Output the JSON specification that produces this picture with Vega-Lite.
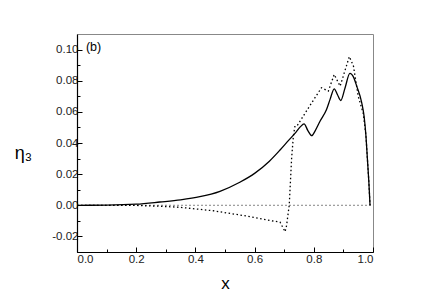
{
  "$schema": "https://vega.github.io/schema/vega-lite/v6.json",
  "width": 296,
  "height": 218,
  "autosize": "none",
  "padding": {"left": 77, "top": 34, "right": 61, "bottom": 51},
  "background": "white",
  "config": {
    "view": {"stroke": "#888", "strokeWidth": 1},
    "axis": {
      "grid": false,
      "domainColor": "#000",
      "domainWidth": 1.2,
      "tickColor": "#000",
      "tickWidth": 1,
      "labelFont": "Liberation Sans",
      "labelFontSize": 11.5,
      "labelColor": "#222",
      "titleFont": "Liberation Sans",
      "titleFontWeight": "normal",
      "titleColor": "#000"
    }
  },
  "datasets": {
    "solid": [
      {"x": 0, "y": 0}, {"x": 0.1, "y": 0.0001}, {"x": 0.2, "y": 0.0007}, {"x": 0.28, "y": 0.0021},
      {"x": 0.35, "y": 0.0035}, {"x": 0.415, "y": 0.0055}, {"x": 0.483, "y": 0.009}, {"x": 0.55, "y": 0.0148},
      {"x": 0.6, "y": 0.0205}, {"x": 0.65, "y": 0.0283}, {"x": 0.686, "y": 0.0355}, {"x": 0.714, "y": 0.0415},
      {"x": 0.74, "y": 0.047}, {"x": 0.755, "y": 0.0505}, {"x": 0.767, "y": 0.0523}, {"x": 0.78, "y": 0.048},
      {"x": 0.793, "y": 0.0447}, {"x": 0.805, "y": 0.048}, {"x": 0.821, "y": 0.054}, {"x": 0.843, "y": 0.0615},
      {"x": 0.855, "y": 0.068}, {"x": 0.869, "y": 0.0748}, {"x": 0.88, "y": 0.071}, {"x": 0.891, "y": 0.0673},
      {"x": 0.905, "y": 0.075}, {"x": 0.922, "y": 0.0847}, {"x": 0.935, "y": 0.082}, {"x": 0.945, "y": 0.0765},
      {"x": 0.962, "y": 0.0658}, {"x": 0.97, "y": 0.057}, {"x": 0.976, "y": 0.045}, {"x": 0.981, "y": 0.03},
      {"x": 0.986, "y": 0.015}, {"x": 0.99, "y": 0}
    ],
    "dotted": [
      {"x": 0, "y": 0}, {"x": 0.2, "y": -0.0001}, {"x": 0.28, "y": -0.0006}, {"x": 0.348, "y": -0.0013},
      {"x": 0.46, "y": -0.0035}, {"x": 0.573, "y": -0.0069}, {"x": 0.663, "y": -0.0101}, {"x": 0.686, "y": -0.0108},
      {"x": 0.703, "y": -0.017}, {"x": 0.708, "y": -0.013}, {"x": 0.717, "y": 0}, {"x": 0.725, "y": 0.03},
      {"x": 0.731, "y": 0.0445}, {"x": 0.736, "y": 0.0505}, {"x": 0.742, "y": 0.0505}, {"x": 0.78, "y": 0.062},
      {"x": 0.826, "y": 0.0755}, {"x": 0.849, "y": 0.0733}, {"x": 0.869, "y": 0.084}, {"x": 0.889, "y": 0.0765},
      {"x": 0.92, "y": 0.0955}, {"x": 0.934, "y": 0.0894}, {"x": 0.95, "y": 0.07}, {"x": 0.967, "y": 0.059},
      {"x": 0.976, "y": 0.045}, {"x": 0.981, "y": 0.03}, {"x": 0.986, "y": 0.015}, {"x": 0.99, "y": 0}
    ],
    "zero": [{"x": 0, "y": 0}, {"x": 1, "y": 0}],
    "label": [{"x": 0.03, "y": 0.1015, "text": "(b)"}]
  },
  "layer": [
    {
      "data": {"name": "zero"},
      "mark": {"type": "line", "color": "#666", "strokeWidth": 0.8, "strokeDash": [2, 2]},
      "encoding": {
        "x": {"field": "x", "type": "quantitative", "scale": {"domain": [0, 1]},
          "axis": {"orient": "bottom", "values": [0.1, 0.3, 0.5, 0.7, 0.9], "labels": false, "domain": false, "tickSize": -3, "title": null}},
        "y": {"field": "y", "type": "quantitative", "scale": {"domain": [-0.03, 0.11]},
          "axis": {"orient": "left", "values": [-0.03, -0.01, 0.01, 0.03, 0.05, 0.07, 0.09], "labels": false, "domain": false, "tickSize": -3, "title": null}}
      }
    },
    {
      "data": {"name": "solid"},
      "mark": {"type": "line", "color": "#000", "strokeWidth": 1.3, "interpolate": "monotone"},
      "encoding": {
        "x": {"field": "x", "type": "quantitative", "scale": {"domain": [0, 1]},
          "axis": {"orient": "bottom", "values": [0, 0.2, 0.4, 0.6, 0.8, 1.0], "format": ".1f", "tickSize": -5, "labelPadding": 6,
            "title": "x", "titleFontSize": 17, "titlePadding": 11}},
        "y": {"field": "y", "type": "quantitative", "scale": {"domain": [-0.03, 0.11]},
          "axis": {"orient": "left", "values": [-0.02, 0, 0.02, 0.04, 0.06, 0.08, 0.1],
            "labelExpr": "datum.value < 0 ? '-' + format(-datum.value, '.2f') : format(datum.value, '.2f')",
            "tickSize": -5, "labelPadding": 4,
            "title": "η₃", "titleFontSize": 18, "titleAngle": 0, "titleX": -54, "titleY": 119,
            "titleAlign": "center", "titleBaseline": "middle"}}
      }
    },
    {
      "data": {"name": "dotted"},
      "mark": {"type": "line", "color": "#000", "strokeWidth": 1.3, "strokeDash": [1.5, 2.5]},
      "encoding": {
        "x": {"field": "x", "type": "quantitative", "axis": null},
        "y": {"field": "y", "type": "quantitative", "axis": null}
      }
    },
    {
      "data": {"name": "label"},
      "mark": {"type": "text", "font": "Liberation Sans", "fontSize": 12.5, "align": "left", "baseline": "middle", "color": "#000"},
      "encoding": {
        "x": {"field": "x", "type": "quantitative", "axis": null},
        "y": {"field": "y", "type": "quantitative", "axis": null},
        "text": {"field": "text"}
      }
    }
  ],
  "resolve": {"axis": {"x": "independent", "y": "independent"}}
}
